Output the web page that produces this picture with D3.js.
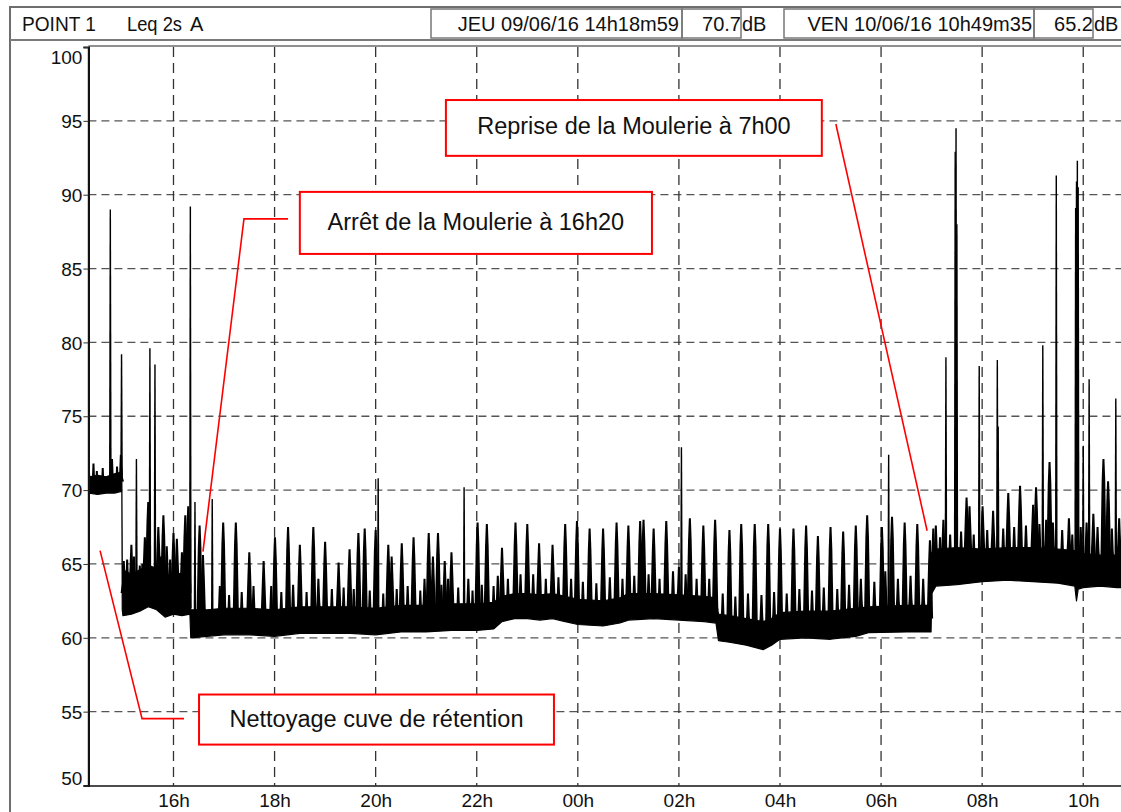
<!DOCTYPE html>
<html><head><meta charset="utf-8">
<script src="https://cdn.jsdelivr.net/npm/d3@7"></script>
<style>
body{margin:0;background:#fff;}
svg{display:block;font-family:"Liberation Sans",Arial,sans-serif;}
</style>
</head><body>
<svg id="c" width="1121" height="812"></svg>
<script>
// ---------- DATA ----------
const startTime = "14:18:59";
const endTime = "10:49:35";
const yTicks = [50,55,60,65,70,75,80,85,90,95,100];
const yGrid = [55,60,65,70,75,80,85,90,95];
const xTickTimes = ["16:00","18:00","20:00","22:00","00:00","02:00","04:00","06:00","08:00","10:00"];
const xTickLabels = ["16h","18h","20h","22h","00h","02h","04h","06h","08h","10h"];

// noise band envelope (dense part of the Leq 2s trace)
const bandTime = [
 "14:18:59","14:19:40","14:30","14:40","14:50","14:57","14:58:40",
 "14:59:10","15:00","15:10","15:20","15:30","15:40","15:50","16:00","16:10","16:19:30",
 "16:20:30","16:40","17:00","17:30","18:00","18:30","19:00","19:30","20:00","20:30",
 "21:00","21:30","22:00","22:20","22:30","22:45","23:00","23:15","23:30","23:45",
 "00:00","00:30","00:50","01:00","01:30","02:00","02:30","02:44","02:47","03:00",
 "03:20","03:40","03:50","04:00","04:30","05:00","05:30","05:45","06:30","06:59:20",
 "07:00:10","07:05","07:30","08:00","08:30","09:00","09:30","09:50","09:52","09:54","10:00","10:20","10:40","10:49:35"];
const bandLow = [
 69.6,69.8,69.7,69.8,69.8,69.9,69.9,
 61.9,61.5,61.6,61.8,62.1,61.9,61.4,61.6,61.5,61.6,
 60.0,60.1,60.2,60.2,60.1,60.3,60.3,60.3,60.2,60.4,
 60.4,60.5,60.5,60.6,61.1,61.3,61.3,61.2,61.3,61.1,
 60.9,60.8,61.0,61.2,61.3,61.2,61.1,61.0,59.8,59.7,
 59.5,59.2,59.5,59.9,60.0,59.9,60.1,60.35,60.4,60.4,
 63.0,63.5,63.6,63.8,63.9,63.8,63.7,63.5,62.5,63.3,63.4,63.5,63.4,63.4];
const bandHigh = [
 71.2,70.9,71.0,70.9,71.1,71.2,71.4,
 65.0,64.6,64.3,64.6,64.9,64.7,64.3,64.2,64.4,64.5,
 61.9,61.9,62.0,62.0,61.9,62.1,62.1,62.1,62.0,62.2,
 62.2,62.3,62.3,62.4,62.8,63.0,63.0,62.9,63.0,62.8,
 62.6,62.5,62.7,63.0,63.0,62.9,62.8,62.7,61.6,61.5,
 61.3,61.1,61.3,61.7,61.8,61.8,62.0,62.1,62.2,62.2,
 65.8,66.0,66.1,66.0,66.1,66.1,66.0,65.9,65.7,65.6,65.7,65.6,65.6,65.6];

// peaks above the band
const peakTime = [
 "14:19:10","14:25","14:29","14:36","14:45","14:47","14:53","14:57:30","14:58:20",
 "15:01","15:05","15:10","15:13","15:16","15:20","15:23","15:26","15:30","15:32","15:38","15:42","15:45","15:48","15:52","15:56",
 "16:00","16:04","16:10","16:14","16:17:30","16:20",
 "16:25:30","16:31","16:35","16:46","16:55","16:59","17:06","17:14","17:21","17:30","17:35","17:47","17:56",
 "18:00:30","18:08","18:16","18:22","18:30","18:38","18:46","18:52","19:00","19:08","19:16","19:22","19:29","19:34","19:39:30","19:47","19:53",
 "20:00","20:03","20:09","20:15","20:19","20:25","20:31","20:38","20:45","20:53","20:58",
 "21:03","21:08","21:14","21:18","21:22","21:26","21:30","21:38","21:45","21:50","21:55",
 "22:01","22:06","22:12","22:20","22:25","22:30","22:37","22:46","22:52",
 "23:00","23:07","23:14","23:22","23:30","23:37","23:45","23:52","23:59",
 "00:06","00:14","00:22","00:30","00:38","00:46","00:53",
 "01:00","01:07","01:14","01:18","01:24","01:30","01:37","01:45","01:53",
 "02:00","02:03","02:08","02:13","02:21","02:29","02:36","02:43","02:52",
 "03:00","03:07","03:14","03:22","03:30","03:38","03:46","03:53",
 "04:00","04:08","04:16","04:23","04:31","04:38","04:45","04:52",
 "05:00","05:08","05:15","05:22","05:30","05:36","05:43:30","05:52",
 "06:01","06:05","06:09","06:13","06:20","06:28","06:35","06:43","06:50","06:58",
 "07:02","07:05","07:10","07:14","07:17","07:22","07:28","07:29","07:30","07:35","07:41:30","07:45","07:50","07:56:30",
 "08:00:30","08:06","08:13","08:18","08:19","08:25","08:31","08:38","08:45","08:52",
 "09:00:30","09:04","09:08","09:12","09:16","09:20","09:24","09:28","09:35","09:43","09:47","09:51","09:52","09:53","09:54","09:57",
 "10:00","10:04","10:07","10:12","10:17","10:24","10:29:30","10:34","10:38:40","10:42:40","10:46"];
const peakValue = [
 72.1,71.8,71.3,71.5,89.0,72.1,71.6,72.4,79.2,
 65.2,65.3,66.3,65.5,72.1,64.9,65.0,66.8,69.2,79.6,78.5,67.5,65.5,68.3,66.2,65.3,
 67.1,66.7,65.8,68.3,68.9,89.2,
 69.2,67.6,65.6,69.4,63.5,67.8,62.9,67.8,63.1,65.8,63.5,65.2,63.5,
 66.8,63.1,67.5,63.6,66.3,63.1,67.5,64.0,66.5,63.3,65.1,63.4,66.0,63.3,67.1,67.4,63.2,
 67.3,70.8,63.0,66.3,65.5,63.3,66.4,63.5,66.8,63.2,64.0,
 67.1,65.5,67.1,63.6,65.2,64.0,65.8,63.4,70.2,64.0,63.2,
 67.8,63.6,67.7,63.5,64.2,66.1,64.0,67.8,64.3,
 67.7,64.3,66.4,64.0,66.3,64.1,67.7,64.0,67.9,
 63.8,67.4,63.7,67.4,64.1,67.8,64.0,
 67.6,64.2,67.9,68.0,64.3,67.4,64.0,67.9,64.5,
 64.8,72.9,64.3,68.1,64.0,67.6,64.0,68.0,63.0,
 67.3,62.8,67.7,63.0,67.7,62.9,67.7,63.1,
 67.4,63.0,67.4,63.3,67.6,63.2,66.9,63.4,
 67.5,63.3,67.2,63.6,67.6,64.0,68.3,63.8,
 67.5,64.5,72.4,68.2,64.0,67.8,64.2,67.7,64.0,66.6,
 67.4,67.6,66.8,68.0,79.0,67.0,92.9,94.5,88.0,67.2,69.5,68.9,67.0,78.4,
 68.9,67.3,68.6,78.8,74.3,67.4,69.8,67.5,70.3,67.6,
 69.0,70.2,67.7,79.8,68.0,71.9,67.8,91.3,67.3,68.1,67.0,89.1,90.9,92.3,90.5,67.5,
 73.0,67.8,77.5,68.4,67.5,72.1,70.6,67.4,76.2,68.1,67.0];

const headerTexts = ["POINT 1", "Leq 2s", "A", "JEU 09/06/16 14h18m59", "70.7", "dB", "VEN 10/06/16 10h49m35", "65.2", "dB"];
const noteTexts = ["Arrêt de la Moulerie à 16h20", "Reprise de la Moulerie à 7h00", "Nettoyage cuve de rétention"];

// ---------- HELPERS ----------
function T(s){
  const p = s.split(":").map(Number);
  const day = p[0] >= 12 ? 9 : 10;
  return new Date(2016, 5, day, p[0], p[1], p[2] || 0);
}

const svg = d3.select("#c");
const W = 1121, H = 812;
const plotLeft = 88.4, plotTop = 47, plotBottom = 785.5;

const x = d3.scaleTime().domain([T(startTime), T(endTime)]).range([plotLeft, 1125]);
const y = d3.scaleLinear().domain([50, 100]).range([plotBottom, plotTop]);

// ---------- FRAME / HEADER ----------
svg.append("rect").attr("x", 10).attr("y", 7).attr("width", 1130).attr("height", 830)
  .attr("fill", "none").attr("stroke", "#6e6e6e").attr("stroke-width", 2);
svg.append("line").attr("x1", 10).attr("x2", W).attr("y1", 40).attr("y2", 40)
  .attr("stroke", "#7a7a7a").attr("stroke-width", 2);

const hdrBoxes = [[431, 682], [682, 741], [784, 1034], [1034, 1093]];
svg.selectAll("rect.hb").data(hdrBoxes).join("rect").attr("class", "hb")
  .attr("x", d => d[0]).attr("y", 9).attr("width", d => d[1] - d[0]).attr("height", 29)
  .attr("fill", "none").attr("stroke", "#777").attr("stroke-width", 1.5);

const hdrPos = [[22,"start"],[127,"start"],[190,"start"],[679,"end"],[741,"end"],[742,"start"],[1032,"end"],[1093,"end"],[1094,"start"]];
const ht = svg.selectAll("text.ht").data(headerTexts).join("text").attr("class", "ht")
  .attr("x", (d, i) => hdrPos[i][0]).attr("y", 31)
  .attr("text-anchor", (d, i) => hdrPos[i][1])
  .attr("font-size", "20px").attr("fill", "#111").text(d => d);
ht.filter((d, i) => i === 1).attr("textLength", 55).attr("lengthAdjust", "spacingAndGlyphs");
ht.filter((d, i) => i === 0).attr("textLength", 74).attr("lengthAdjust", "spacingAndGlyphs");

// ---------- GRID ----------
const g = svg.append("g");
g.selectAll("line.hg").data(yGrid).join("line").attr("class", "hg")
  .attr("x1", plotLeft).attr("x2", W).attr("y1", d => y(d)).attr("y2", d => y(d))
  .attr("stroke", "#555").attr("stroke-width", 1.3).attr("stroke-dasharray", "8,5");
g.selectAll("line.vg").data(xTickTimes).join("line").attr("class", "vg")
  .attr("x1", d => x(T(d))).attr("x2", d => x(T(d))).attr("y1", plotTop).attr("y2", plotBottom)
  .attr("stroke", "#333").attr("stroke-width", 1.3).attr("stroke-dasharray", "10,6");

// ---------- DATA ----------
svg.append("clipPath").attr("id", "clip").append("rect")
  .attr("x", plotLeft).attr("y", plotTop - 2).attr("width", W - plotLeft).attr("height", plotBottom - plotTop + 2);
const dg = svg.append("g").attr("clip-path", "url(#clip)");

const band = bandTime.map((t, i) => ({ t: T(t), lo: bandLow[i], hi: bandHigh[i] }));
const area = d3.area().x(d => x(d.t)).y0(d => y(d.lo)).y1(d => y(d.hi));
dg.append("path").datum(band).attr("d", area).attr("fill", "#000")
  .attr("stroke", "#000").attr("stroke-width", 1.2).attr("stroke-linejoin", "round");

const bis = d3.bisector(d => d.t).left;
function bandAt(t){
  let i = bis(band, t);
  if (i <= 0) return band[0];
  if (i >= band.length) return band[band.length - 1];
  const a = band[i - 1], b = band[i];
  const f = (t - a.t) / (b.t - a.t);
  return { lo: a.lo + (b.lo - a.lo) * f, hi: a.hi + (b.hi - a.hi) * f };
}
const peaks = peakTime.map((t, i) => ({ t: T(t), v: peakValue[i] }));
dg.selectAll("path.pk").data(peaks).join("path").attr("class", "pk")
  .attr("d", d => {
    const b = bandAt(d.t);
    const px = x(d.t), base = y((b.lo + b.hi) / 2), top = y(d.v);
    if (d.v - b.hi > 7) {
      return `M${px-1.3},${base}L${px-0.7},${top}L${px+0.7},${top}L${px+1.3},${base}Z`;
    }
    const sh = y(d.v - 1.5);
    return `M${px-3.2},${base}L${px-1.8},${sh}L${px-1},${top}L${px+1},${top}L${px+1.8},${sh}L${px+3.2},${base}Z`;
  })
  .attr("fill", "#000");

// ---------- AXES ----------
svg.append("line").attr("x1", plotLeft).attr("x2", W).attr("y1", plotTop - 1).attr("y2", plotTop - 1)
  .attr("stroke", "#222").attr("stroke-width", 1.2);
const ya = svg.append("g").attr("transform", `translate(${plotLeft},0)`)
  .call(d3.axisLeft(y).tickValues(yTicks).tickSize(5).tickPadding(1).tickFormat(d3.format("d")));
ya.select(".domain").attr("stroke", "#111").attr("stroke-width", 2.2);
ya.selectAll(".tick line").attr("stroke", "#333");
ya.selectAll("text").attr("font-size", "19px").attr("fill", "#111").attr("font-family", "Liberation Sans, Arial, sans-serif")
  .attr("dy", d => d === 100 ? "0.85em" : d === 50 ? "-0.05em" : "0.35em");

const xa = svg.append("g").attr("transform", `translate(0,${plotBottom})`)
  .call(d3.axisBottom(x).tickValues(xTickTimes.map(T)).tickFormat((d, i) => xTickLabels[i]).tickSize(0).tickPadding(8));
xa.select(".domain").attr("stroke", "#111").attr("stroke-width", 1.6);
xa.selectAll("text").attr("font-size", "19px").attr("fill", "#111").attr("font-family", "Liberation Sans, Arial, sans-serif");

// ---------- ANNOTATIONS (data coordinates) ----------
const notes = [
  { box: ["18:30", "01:28", 90.19, 85.99], text: ["21:59", 88.16],
    leader: [["18:16", 88.36], ["17:23:40", 88.36], ["16:35", 65.83]] },
  { box: ["21:23:24", "04:49:40", 96.41, 92.63], text: ["01:06:36", 94.66],
    leader: [["05:06:20", 94.79], ["06:54:40", 67.25]] },
  { box: ["16:30:20", "23:31:40", 56.16, 52.77], text: ["20:01", 54.47],
    leader: [["14:32:50", 65.9], ["15:22:40", 54.53], ["16:12:30", 54.53]] }
];
const ag = svg.append("g");
notes.forEach((n, i) => {
  const x0 = x(T(n.box[0])), x1 = x(T(n.box[1])), y0 = y(n.box[2]), y1 = y(n.box[3]);
  ag.append("rect").attr("x", x0).attr("y", y0).attr("width", x1 - x0).attr("height", y1 - y0)
    .attr("fill", "#fff").attr("stroke", "#ff0000").attr("stroke-width", 2);
  ag.append("text").attr("x", x(T(n.text[0]))).attr("y", y(n.text[1]))
    .attr("text-anchor", "middle").attr("dominant-baseline", "central")
    .attr("font-size", "23.5px").attr("fill", "#111").text(noteTexts[i]);
  ag.append("path").attr("d", d3.line().x(p => x(T(p[0]))).y(p => y(p[1]))(n.leader))
    .attr("fill", "none").attr("stroke", "#ff0000").attr("stroke-width", 1.6);
});
</script>
</body></html>
